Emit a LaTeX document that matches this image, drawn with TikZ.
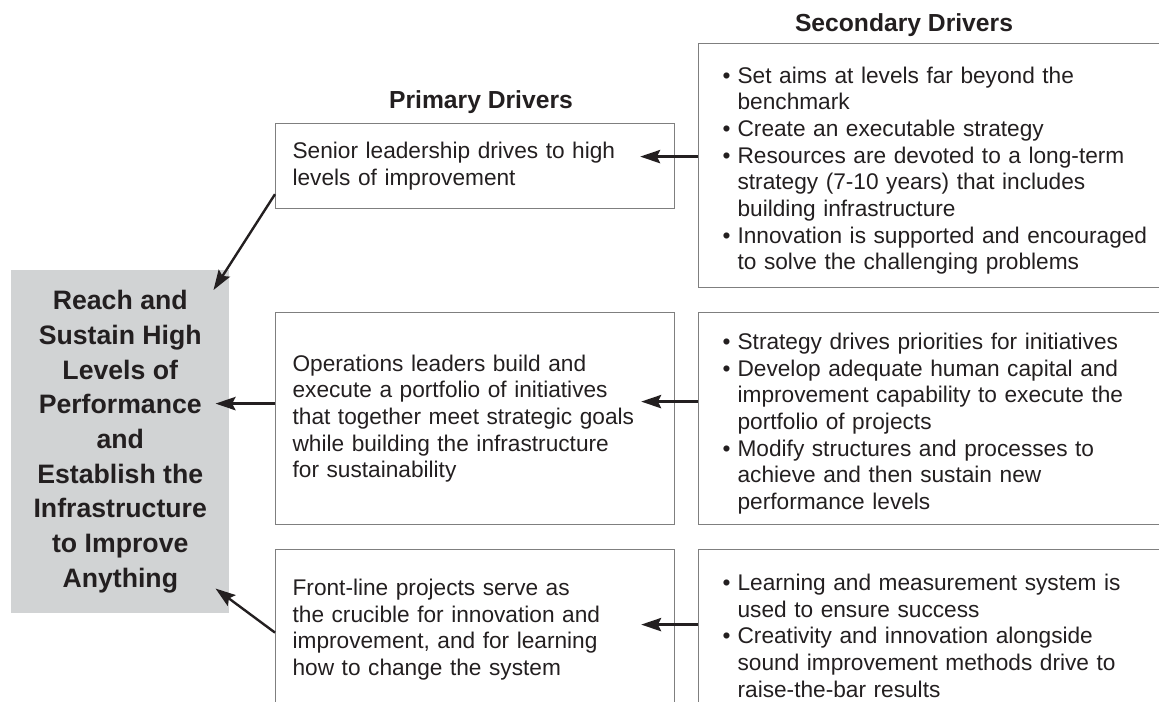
\documentclass[tikz,border=0pt]{standalone}
\usepackage{fontspec}
\setmainfont{Liberation Sans}
\usetikzlibrary{arrows.meta}

\definecolor{boxline}{HTML}{7F7F7F}
\definecolor{goalfill}{HTML}{D1D3D4}
\definecolor{ink}{HTML}{231F20}

\newcommand{\bodyfont}{\fontsize{17}{20}\selectfont}
\newcommand{\headfont}{\fontsize{18.5}{22}\selectfont\bfseries}
\newcommand{\goalfont}{\fontsize{20}{26}\selectfont\bfseries}
\newcommand{\bul}{\par\noindent\hangindent=11.25pt\hangafter=1\makebox[11.25pt][l]{\textbullet}}

\begin{document}
\begin{tikzpicture}[x=0.75pt, y=-0.75pt, color=ink, text=ink,
  prim/.style={draw=boxline, line width=0.9pt, anchor=north west, align=left,
    text width=273.75pt, inner xsep=12.75pt, inner ysep=0pt, font=\bodyfont},
  sec/.style={prim, text width=325.5pt, inner xsep=18pt},
  goalbox/.style={fill=goalfill, anchor=north west, align=center, inner sep=0pt,
    minimum width=163.5pt, minimum height=257.25pt, font=\goalfont},
  arr/.style={line width=1.8pt, -{Stealth[length=15pt,width=10pt,inset=2.5pt]}}]
  \useasboundingbox (0,0) rectangle (1159,702);
  \clip (0,0) rectangle (1159,702);

  % headings
  \node[font=\headfont] (sechead) at (904,25) {Secondary Drivers};
  \node[font=\headfont] (primhead) at (481,102) {Primary Drivers};

  % aim
  \node[goalbox] (goal) at (11,270) {Reach and\\Sustain High\\Levels of\\Performance\\and\\Establish the\\Infrastructure\\to Improve\\Anything};

  % primary drivers
  \node[prim, minimum height=63.75pt] (p1) at (275,123)
    {Senior leadership drives to high\\levels of improvement};
  \node[prim, minimum height=159pt] (p2) at (275,312)
    {Operations leaders build and\\execute a portfolio of initiatives\\that together meet strategic goals\\while building the infrastructure\\for sustainability};
  \node[prim, minimum height=120pt] (p3) at (275,549)
    {Front-line projects serve as\\the crucible for innovation and\\improvement, and for learning\\how to change the system};

  % secondary drivers
  \node[sec, minimum height=183pt] (s1) at (698,43) {%
    \bul Set aims at levels far beyond the\newline benchmark
    \bul Create an executable strategy
    \bul Resources are devoted to a long-term\newline strategy (7-10 years) that includes\newline building infrastructure
    \bul Innovation is supported and encouraged\newline to solve the challenging problems\par};
  \node[sec, minimum height=159pt] (s2) at (698,312) {%
    \bul Strategy drives priorities for initiatives
    \bul Develop adequate human capital and\newline improvement capability to execute the\newline portfolio of projects
    \bul Modify structures and processes to\newline achieve and then sustain new\newline performance levels\par};
  \node[sec, minimum height=121.5pt] (s3) at (698,549) {%
    \bul Learning and measurement system is\newline used to ensure success
    \bul Creativity and innovation alongside\newline sound improvement methods drive to\newline raise-the-bar results\par};

  % secondary -> primary
  \draw[arr, shorten >=-26.25pt] ([yshift=6.75pt]s1.west) -- ([yshift=6.75pt]s1.west -| p1.east);
  \draw[arr, shorten >=-25.5pt] ([yshift=12.75pt]s2.west) -- ([yshift=12.75pt]s2.west -| p2.east);
  \draw[arr, shorten >=-25.5pt] ([yshift=4.5pt]s3.west) -- ([yshift=4.5pt]s3.west -| p3.east);

  % primary -> aim
  \draw[arr] ([yshift=11.25pt]p1.south west) -- ([xshift=-12pt,yshift=-15pt]goal.north east);
  \draw[arr, shorten >=-10.5pt] ([yshift=11.25pt]p2.west) -- ([yshift=11.25pt]p2.west -| goal.east);
  \draw[arr] ([yshift=-2.25pt]p3.west) -- ([xshift=-10.5pt,yshift=18.75pt]goal.south east);
\end{tikzpicture}
\end{document}
